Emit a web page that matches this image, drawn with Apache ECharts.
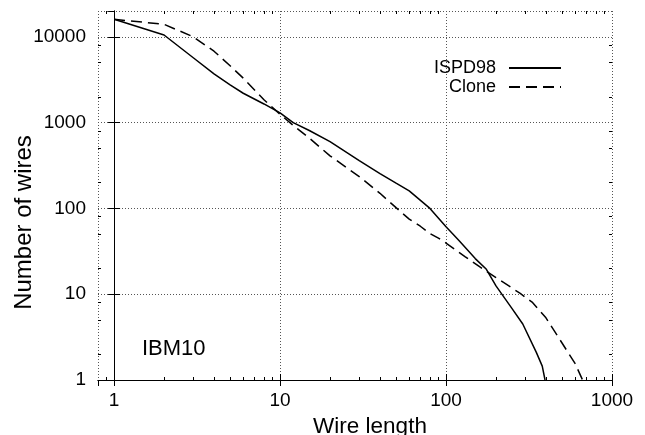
<!DOCTYPE html>
<html>
<head>
<meta charset="utf-8">
<script src="https://cdn.jsdelivr.net/npm/echarts@6/dist/echarts.min.js"></script>
<style>
  html, body { margin: 0; padding: 0; background: #fff; }
  #chart { width: 645px; height: 435px; }
</style>
</head>
<body>
<div id="chart"></div>
<script>
// wire length distribution, IBM10
const ispdLength = [1, 2, 3, 4, 5, 6, 8, 10, 12, 15, 20, 30, 40, 50, 60, 80, 100, 120, 150, 175, 200, 250, 290, 350, 380, 395]
const ispdWires = [16000, 10500, 5700, 3700, 2750, 2200, 1650, 1300, 1000, 810, 600, 360, 255, 197, 160, 100, 61, 42, 26, 19.5, 12.5, 6.8, 4.5, 2.1, 1.45, 1]

const cloneLength = [1, 2, 3, 4, 5, 6, 8, 10, 12, 15, 20, 30, 40, 50, 60, 70, 80, 90, 100, 130, 160, 200, 250, 280, 330, 400, 500, 600, 665]
const cloneWires = [16000, 14000, 10000, 6800, 4600, 3300, 1850, 1250, 930, 660, 410, 235, 150, 102, 75, 62, 51, 45, 39.5, 27.5, 20.8, 15.6, 11.8, 10.2, 8.1, 5.3, 2.7, 1.55, 1]

const xMinorTicks = [0.9, 2, 3, 4, 5, 6, 7, 8, 9, 20, 30, 40, 50, 60, 70, 80, 90, 200, 300, 400, 500, 600, 700, 800, 900]
const yMinorTicks = [2, 5, 8, 20, 50, 80, 200, 500, 800, 2000, 5000, 8000]

const xRange = [0.8, 1000]
const yRange = [1, 20000]

const font = 'Liberation Sans, Arial, Helvetica, sans-serif'
const black = '#000'

const chart = echarts.init(document.getElementById('chart'))

const majorAxis = (position, range, extra) => Object.assign({
  type: 'log',
  logBase: 10,
  position,
  min: range[0],
  max: range[1],
  axisLine: { show: true, lineStyle: { color: black, width: 1 } },
  axisTick: { show: true, inside: true, length: 6, lineStyle: { color: black } },
  axisLabel: { show: false },
  splitLine: { show: false },
}, extra)

// plain value axes in log10 units, only used to place the minor ticks
const minorAxis = (position, range, ticks) => ({
  type: 'value',
  position,
  min: Math.log10(range[0]),
  max: Math.log10(range[1]),
  axisLine: { show: false },
  axisTick: {
    show: true,
    inside: true,
    length: 3,
    lineStyle: { color: black },
    customValues: ticks.map(v => Math.log10(v)),
  },
  axisLabel: { show: false },
  splitLine: { show: false },
})

const label = {
  show: true,
  color: black,
  fontFamily: font,
  fontSize: 19,
  formatter: v => String(Math.round(v)),
}

const gridDots = { show: true, lineStyle: { color: '#555', width: 1, type: [1, 2] } }

const option = {
  backgroundColor: '#fff',
  animation: false,
  grid: { left: 98, right: 33, top: 11, bottom: 55, containLabel: false, outerBoundsMode: 'none' },
  title: {
    text: 'IBM10',
    left: 142,
    top: 338,
    padding: 0,
    textStyle: { color: black, fontFamily: font, fontSize: 22, fontWeight: 'normal' },
  },
  legend: {
    orient: 'vertical',
    right: 83,
    top: 59,
    align: 'right',
    padding: 0,
    itemWidth: 52,
    itemHeight: 14,
    itemGap: 1,
    itemStyle: { opacity: 0 },
    textStyle: { color: black, fontFamily: font, fontSize: 18, padding: [0, 8, 0, 0] },
    data: ['ISPD98', 'Clone'],
  },
  xAxis: [
    majorAxis('bottom', xRange, {
      axisLabel: Object.assign({}, label, { margin: 11, showMinLabel: false }),
      splitLine: gridDots,
      name: 'Wire length',
      nameLocation: 'middle',
      nameGap: 30,
      nameTextStyle: { color: black, fontFamily: font, fontSize: 22.5, padding: [0, 0, 0, 30] },
    }),
    majorAxis('top', xRange),
    minorAxis('bottom', xRange, xMinorTicks),
    minorAxis('top', xRange, xMinorTicks),
  ],
  yAxis: [
    majorAxis('left', yRange, {
      axisLabel: Object.assign({}, label, { margin: 12, showMaxLabel: false }),
      splitLine: gridDots,
      name: 'Number of wires',
      nameLocation: 'middle',
      nameGap: 62,
      nameMoveOverlap: false,
      nameTextStyle: { color: black, fontFamily: font, fontSize: 24, padding: [0, 54, 0, 0] },
    }),
    majorAxis('right', yRange),
    minorAxis('left', yRange, yMinorTicks),
    minorAxis('right', yRange, yMinorTicks),
  ],
  series: [
    {
      name: 'ISPD98',
      type: 'line',
      symbol: 'none',
      xAxisIndex: 0,
      yAxisIndex: 0,
      lineStyle: { color: black, width: 1.5 },
      itemStyle: { color: black },
      data: ispdLength.map((x, i) => [x, ispdWires[i]]),
    },
    {
      name: 'Clone',
      type: 'line',
      symbol: 'none',
      xAxisIndex: 0,
      yAxisIndex: 0,
      lineStyle: { color: black, width: 1.5, type: [11, 6] },
      itemStyle: { color: black },
      data: cloneLength.map((x, i) => [x, cloneWires[i]]),
    },
  ],
}

chart.setOption(option)
window.addEventListener('resize', () => chart.resize())
</script>
</body>
</html>
